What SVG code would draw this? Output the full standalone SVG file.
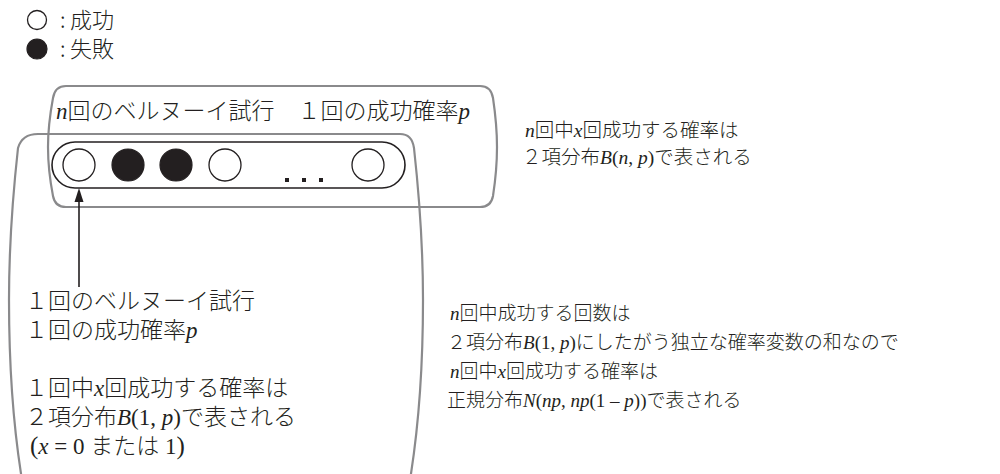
<svg xmlns="http://www.w3.org/2000/svg" width="1000" height="474" viewBox="0 0 1000 474">
<style>
.box{fill:none;stroke:#8a8a8c;stroke-width:2.2}
.inner{fill:none;stroke:#231f20;stroke-width:1.6}
.oc{fill:#fff;stroke:#231f20;stroke-width:1.3}
.fc{fill:#231f20;stroke:#231f20;stroke-width:1.2}
.jp{font-family:"Noto Sans CJK JP","Noto Sans",sans-serif;font-weight:300;fill:#231f20}
.v{font-family:"Liberation Serif",serif;font-style:italic;font-weight:400}
.r{font-family:"Liberation Serif",serif;font-weight:400}
.s23{font-size:23px}
.s195{font-size:19.5px}
.s19{font-size:19px}
.s22{font-size:22px}
</style>
<rect width="1000" height="474" fill="#fff"/>
<g id="legend">
<circle class="oc" cx="37" cy="20" r="9.5"/>
<circle class="fc" cx="37" cy="49" r="10"/>
<text class="jp s22"><tspan x="60" y="28">:</tspan><tspan x="70" y="28">成功</tspan><tspan x="60" y="57">:</tspan><tspan x="70" y="57">失敗</tspan></text>
</g>
<g id="n-trials">
<path class="box" d="M 66 86 H 480 Q 491 86 493 98 Q 497 125 497 147 Q 497 170 493 196 Q 491 207 480 207 H 66 Q 55 207 53 196 Q 48 170 48 147 Q 48 125 53 98 Q 55 86 66 86 Z"/>
<text class="jp s23" x="56" y="119"><tspan class="v">n</tspan>回のベルヌーイ試行　１回の成功確率<tspan class="v">p</tspan></text>
</g>
<g id="single-trial">
<path class="box" d="M 38 134 H 400 Q 412 134 414 148 Q 423 230 423 300 Q 423 400 410 480 L 22 480 Q 9 400 9 300 Q 9 230 18 148 Q 22 134 38 134 Z"/>
<text class="jp s23"><tspan x="25" y="309">１回のベルヌーイ試行</tspan><tspan x="25" y="338">１回の成功確率</tspan><tspan class="v">p</tspan><tspan x="25" y="396">１回中</tspan><tspan class="v">x</tspan><tspan>回成功する確率は</tspan><tspan x="25" y="425">２項分布</tspan><tspan class="v">B</tspan><tspan class="r">(1, </tspan><tspan class="v">p</tspan><tspan class="r">)</tspan><tspan>で表される</tspan><tspan x="30" y="454" class="r" font-size="25">(</tspan><tspan class="v">x</tspan><tspan class="r"> = 0 </tspan><tspan>または</tspan><tspan class="r"> 1</tspan><tspan class="r" font-size="25">)</tspan></text>
</g>
<g id="sequence">
<rect class="inner" x="52" y="142" width="353" height="46" rx="23" ry="23"/>
<circle class="oc" cx="79" cy="165" r="16"/>
<circle class="fc" cx="128" cy="165" r="16"/>
<circle class="fc" cx="176" cy="165" r="16"/>
<circle class="oc" cx="225" cy="165" r="16"/>
<circle class="oc" cx="368" cy="165" r="16"/>
<rect x="285" y="178" width="4" height="4" fill="#231f20"/>
<rect x="302" y="178" width="4" height="4" fill="#231f20"/>
<rect x="319" y="178" width="4" height="4" fill="#231f20"/>
</g>
<g id="binomial-note">
<text class="jp s195"><tspan x="525" y="137" class="v">n</tspan><tspan>回中</tspan><tspan class="v">x</tspan><tspan>回成功する確率は</tspan><tspan x="522" y="164">２項分布</tspan><tspan class="v">B</tspan><tspan class="r">(</tspan><tspan class="v">n</tspan><tspan class="r">, </tspan><tspan class="v">p</tspan><tspan class="r">)</tspan><tspan>で表される</tspan></text>
</g>
<g id="normal-note">
<text class="jp s19"><tspan x="450" y="320" class="v">n</tspan><tspan>回中成功する回数は</tspan><tspan x="447" y="349">２項分布</tspan><tspan class="v">B</tspan><tspan class="r">(1, </tspan><tspan class="v">p</tspan><tspan class="r">)</tspan><tspan>にしたがう独立な確率変数の和なので</tspan><tspan x="450" y="378" class="v">n</tspan><tspan>回中</tspan><tspan class="v">x</tspan><tspan>回成功する確率は</tspan><tspan x="447" y="407">正規分布</tspan><tspan class="v">N</tspan><tspan class="r">(</tspan><tspan class="v">np</tspan><tspan class="r">, </tspan><tspan class="v">np</tspan><tspan class="r">(1 – </tspan><tspan class="v">p</tspan><tspan class="r">))</tspan><tspan>で表される</tspan></text>
</g>
<g id="connectors">
<line x1="79" y1="287" x2="79" y2="200" stroke="#231f20" stroke-width="1.6"/>
<polygon points="79,188 74.5,202 83.5,202" fill="#231f20"/>
</g>
</svg>
